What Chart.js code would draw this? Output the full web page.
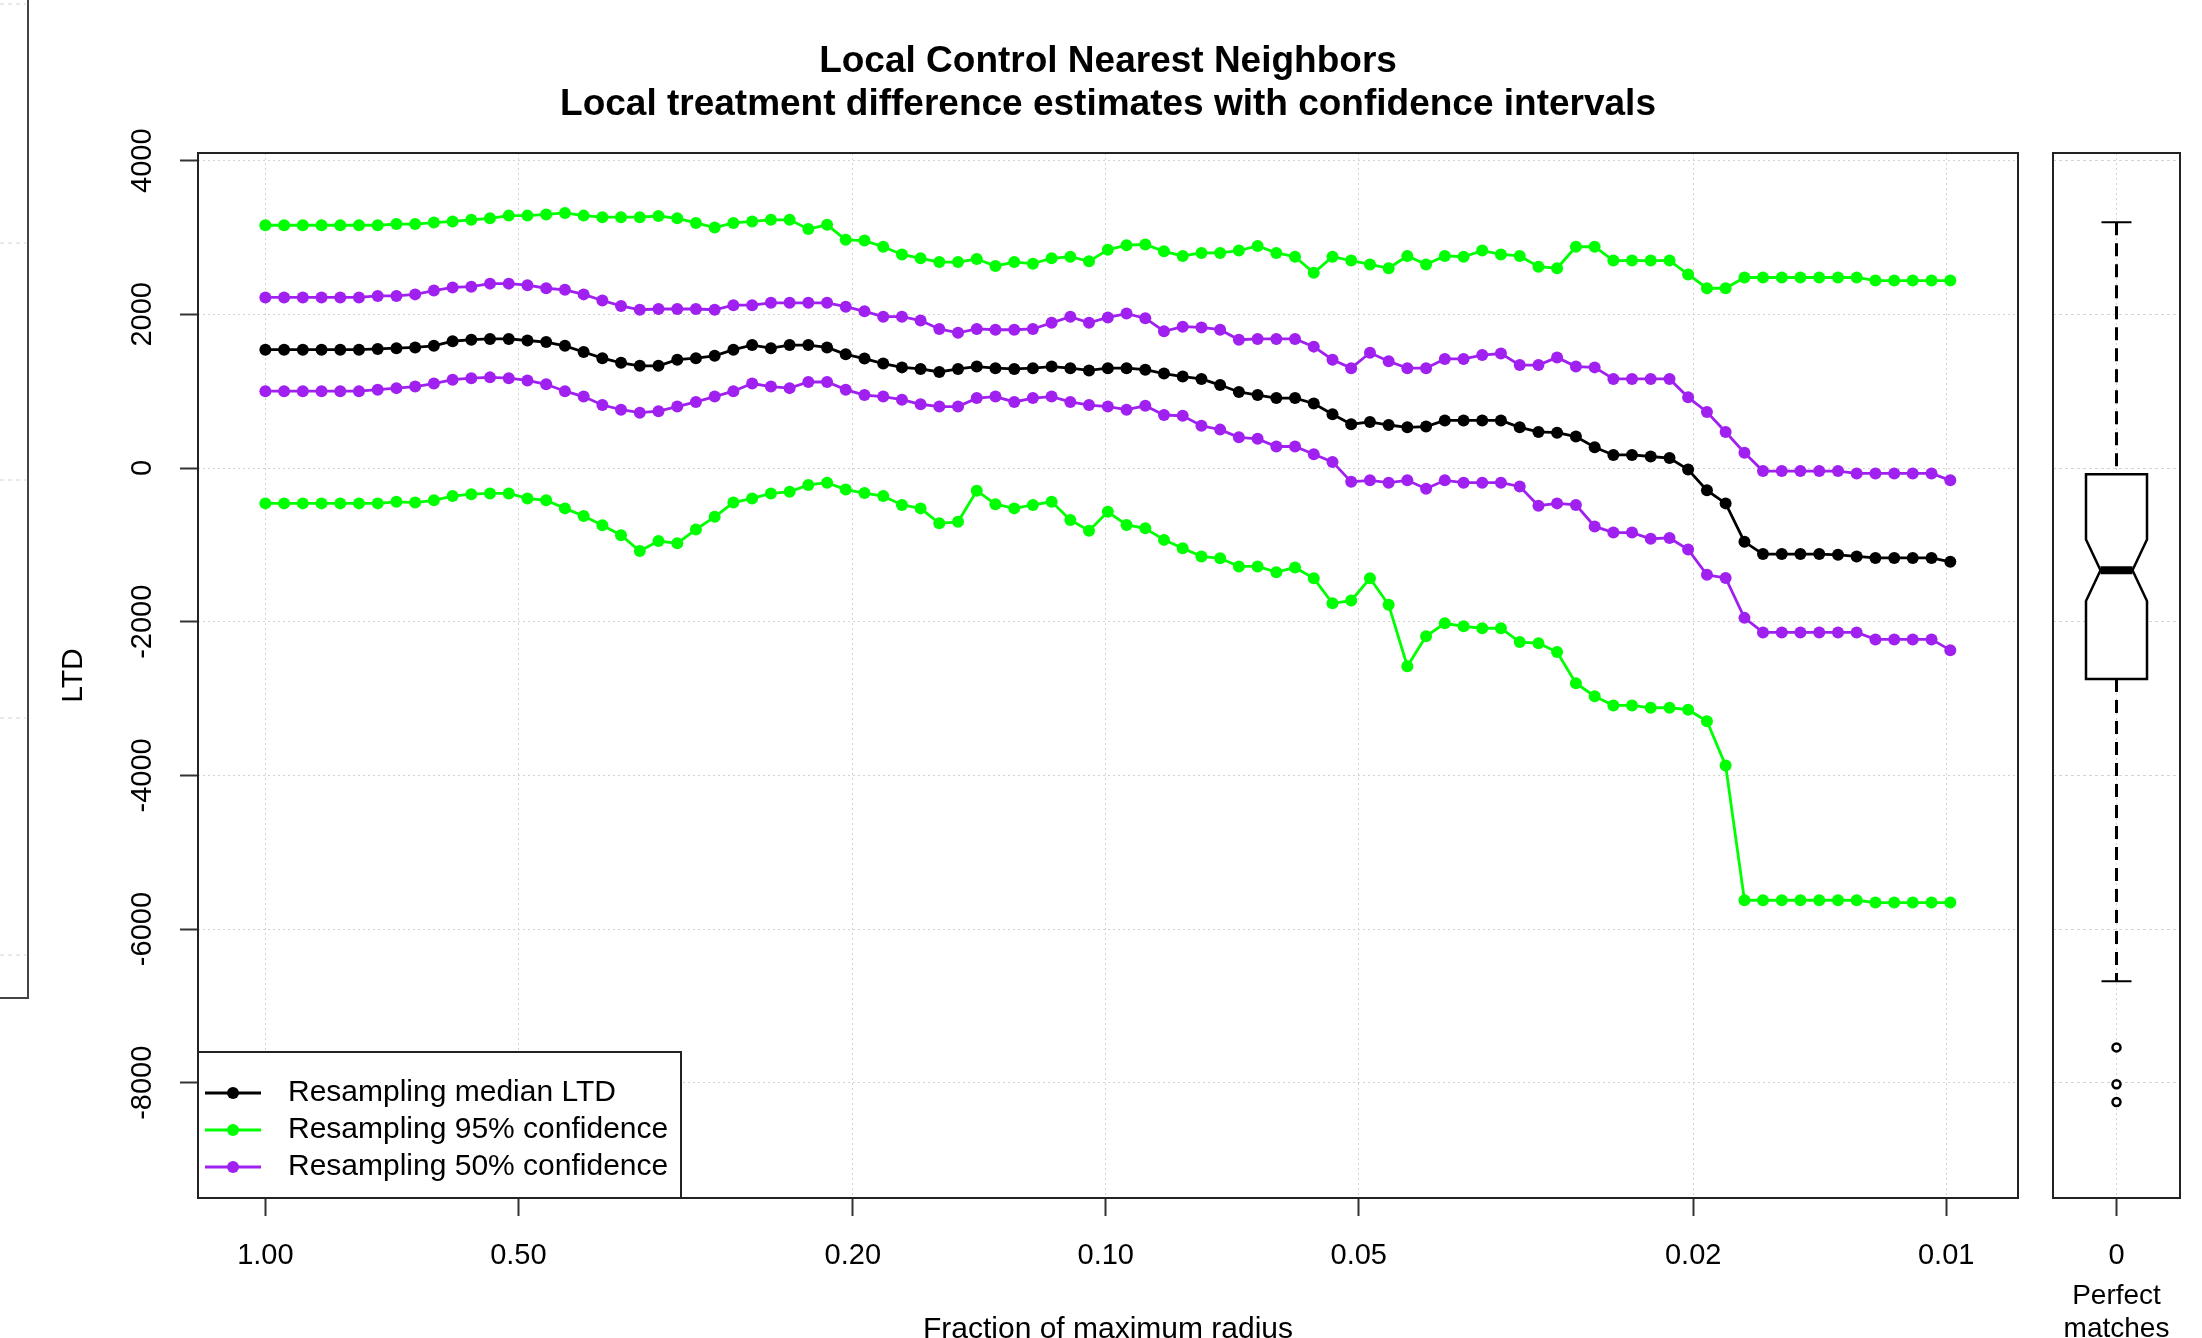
<!DOCTYPE html>
<html>
<head>
<meta charset="utf-8">
<title>Local Control Nearest Neighbors</title>
<script src="https://cdn.jsdelivr.net/npm/chart.js@4.4.1/dist/chart.umd.min.js"></script>
<style>
  html, body { margin: 0; padding: 0; background: #fff; overflow: hidden; }
  #main { position: absolute; left: 0; top: 0; }
  #box { position: absolute; left: 2040px; top: 0; }
</style>
</head>
<body>
<canvas id="main" width="2040" height="1349"></canvas>
<canvas id="box" width="162" height="1346"></canvas>
<script>
// Fraction of maximum radius (each step is 95% of the previous one)
const fraction = [
  1, 0.95, 0.9025, 0.8574, 0.8145, 0.7738, 0.7351, 0.6983, 0.6634, 0.6302,
  0.5987, 0.5688, 0.5404, 0.5133, 0.4877, 0.4633, 0.4401, 0.4181, 0.3972, 0.3774,
  0.3585, 0.3406, 0.3235, 0.3074, 0.2920, 0.2774, 0.2635, 0.2503, 0.2378, 0.2259,
  0.2146, 0.2039, 0.1937, 0.1840, 0.1748, 0.1661, 0.1578, 0.1499, 0.1424, 0.1353,
  0.1285, 0.1221, 0.1160, 0.1102, 0.1047, 0.09944, 0.09447, 0.08974, 0.08526, 0.08100,
  0.07694, 0.07310, 0.06944, 0.06597, 0.06267, 0.05954, 0.05656, 0.05373, 0.05105, 0.04849,
  0.04607, 0.04377, 0.04158, 0.03950, 0.03752, 0.03565, 0.03387, 0.03217, 0.03056, 0.02904,
  0.02758, 0.02620, 0.02489, 0.02365, 0.02247, 0.02134, 0.02028, 0.01926, 0.01830, 0.01738,
  0.01652, 0.01569, 0.01491, 0.01416, 0.01345, 0.01278, 0.01214, 0.01153, 0.01096, 0.01041,
  0.009888
];

const medianLTD = [
  1540, 1540, 1540, 1540, 1540, 1540, 1550, 1560, 1570, 1590,
  1650, 1670, 1680, 1680, 1660, 1640, 1590, 1510, 1430, 1370,
  1330, 1330, 1410, 1430, 1460, 1540, 1600, 1560, 1600, 1600,
  1570, 1480, 1425, 1360, 1310, 1290, 1250, 1290, 1320, 1300,
  1290, 1300, 1320, 1300, 1270, 1300, 1300, 1280, 1230, 1190,
  1160, 1080, 990, 950, 910, 910, 840, 700, 570, 600,
  560, 530, 540, 620, 620, 620, 620, 530, 470, 460,
  410, 270, 170, 170, 150, 130, -20, -290, -460, -960,
  -1120, -1120, -1120, -1120, -1130, -1150, -1170, -1170, -1170, -1170,
  -1220
];

const upper95 = [
  3160, 3160, 3160, 3160, 3160, 3160, 3160, 3175, 3175, 3195,
  3210, 3230, 3250, 3285, 3285, 3300, 3320, 3285, 3265, 3265,
  3265, 3280, 3250, 3190, 3130, 3190, 3210, 3230, 3230, 3110,
  3165, 2970, 2960, 2880, 2780, 2730, 2680, 2680, 2720, 2630,
  2680, 2660, 2730, 2750, 2690, 2840, 2900, 2910, 2820, 2760,
  2800, 2800, 2830, 2890, 2800, 2750, 2540, 2750, 2700, 2650,
  2600, 2760, 2650, 2760, 2750, 2830, 2780, 2760, 2620, 2600,
  2880, 2880, 2700, 2700, 2700, 2700, 2520, 2340, 2340, 2480,
  2480, 2480, 2480, 2480, 2480, 2480, 2440, 2440, 2440, 2440,
  2440
];

const lower95 = [
  -460, -460, -460, -460, -460, -460, -460, -440, -450, -420,
  -365, -340, -330, -330, -395, -420, -525, -625, -745, -875,
  -1080, -950, -980, -800, -635, -450, -395, -330, -310, -220,
  -190, -280, -325, -365, -480, -525, -720, -700, -295, -470,
  -525, -480, -440, -675, -815, -570, -740, -785, -935, -1045,
  -1150, -1175, -1280, -1280, -1355, -1295, -1435, -1760, -1725, -1435,
  -1780, -2580, -2190, -2020, -2060, -2085, -2085, -2265, -2280, -2395,
  -2800, -2970, -3090, -3090, -3120, -3120, -3145, -3295, -3870, -5625,
  -5625, -5625, -5625, -5625, -5625, -5625, -5655, -5655, -5655, -5655,
  -5655
];

const upper50 = [
  2220, 2220, 2220, 2220, 2220, 2220, 2240, 2240, 2260, 2310,
  2350, 2360, 2400, 2400, 2380, 2340, 2320, 2260, 2180, 2110,
  2060, 2070, 2070, 2070, 2060, 2120, 2120, 2150, 2150, 2150,
  2150, 2100, 2040, 1970, 1970, 1920, 1810, 1760, 1810, 1800,
  1800, 1810, 1890, 1970, 1890, 1960, 2010, 1950, 1780, 1840,
  1830, 1800, 1670, 1680, 1680, 1680, 1580, 1410, 1300, 1500,
  1390, 1300, 1300, 1420, 1420, 1470, 1490, 1340, 1340, 1440,
  1320, 1310, 1160, 1160, 1160, 1160, 920, 730, 470, 200,
  -40, -40, -40, -40, -40, -70, -70, -70, -70, -70,
  -160
];

const lower50 = [
  1000, 1000, 1000, 1000, 1000, 1000, 1020, 1040, 1060, 1100,
  1150, 1170, 1180, 1170, 1140, 1090, 1000, 930, 820, 760,
  720, 740, 800, 860, 930, 1000, 1100, 1060, 1040, 1120,
  1120, 1020, 950, 930, 890, 830, 800, 800, 910, 930,
  860, 910, 930, 860, 820, 800, 760, 810, 690, 680,
  550, 500, 400, 380, 280, 280, 180, 80, -180, -160,
  -190, -160, -270, -160, -190, -190, -190, -240, -490, -460,
  -480, -760, -840, -840, -920, -910, -1060, -1390, -1430, -1950,
  -2140, -2140, -2140, -2140, -2140, -2140, -2230, -2230, -2230, -2230,
  -2370
];

const xTicks = [1, 0.5, 0.2, 0.1, 0.05, 0.02, 0.01];
const yTicks = [-8000, -6000, -4000, -2000, 0, 2000, 4000];

// Perfect matches boxplot: lower whisker, Q1, median, Q3, upper whisker
const boxFive = [-6680, -2745, -1330, -80, 3200];
const boxNotch = [-1730, -930];
const boxOutliers = [-7540, -8020, -8250];

const titleLines = ['Local Control Nearest Neighbors', 'Local treatment difference estimates with confidence intervals'];
const legendLabels = ['Resampling median LTD', 'Resampling 95% confidence', 'Resampling 50% confidence'];

const BLACK = '#000000', GREEN = '#00FF00', PURPLE = '#A020F0', GRID = '#D3D3D3', FRAME = '#222';
const FONT = '"Liberation Sans", Arial, Helvetica, sans-serif';
Chart.defaults.font.family = FONT;
Chart.defaults.color = '#000';

function series(label, ys, color) {
    return {
        label: label,
        data: fraction.map((f, i) => ({ x: f, y: ys[i] })),
        borderColor: color,
        backgroundColor: color,
        borderWidth: 2.8,
        pointRadius: 6,
        pointBorderWidth: 0,
        tension: 0,
    };
}

function setTicks(values) {
    return scale => { scale.ticks = values.map(v => ({ value: v })); };
}

const axisGrid = { color: GRID, lineWidth: 1, tickLength: 18, tickColor: '#333', tickWidth: 2, tickBorderDash: [] };

// frame, titles, legend and the sliver of the neighbouring panel on the far left
const mainDecor = {
    id: 'mainDecor',
    beforeDraw(chart) {
        const ctx = chart.ctx;
        ctx.save();
        ctx.strokeStyle = GRID; ctx.lineWidth = 1; ctx.setLineDash([4, 4]);
        [4, 243, 480, 718, 955].forEach(y => {
            ctx.beginPath(); ctx.moveTo(0, y); ctx.lineTo(26, y); ctx.stroke();
        });
        ctx.setLineDash([]);
        ctx.strokeStyle = '#444'; ctx.lineWidth = 2;
        ctx.beginPath(); ctx.moveTo(28, 0); ctx.lineTo(28, 998); ctx.lineTo(0, 998); ctx.stroke();
        ctx.restore();
    },
    afterDatasetsDraw(chart) {
        const { ctx, chartArea: a } = chart;
        ctx.save();
        ctx.strokeStyle = FRAME; ctx.lineWidth = 2;
        ctx.strokeRect(a.left, a.top, a.right - a.left, a.bottom - a.top);

        ctx.fillStyle = '#000'; ctx.textAlign = 'center'; ctx.textBaseline = 'middle';
        ctx.font = 'bold 37px ' + FONT;
        const cx = (a.left + a.right) / 2;
        ctx.fillText(titleLines[0], cx, 62);
        ctx.fillText(titleLines[1], cx, 105);

        // legend, bottom left inside the plot
        const colors = [BLACK, GREEN, PURPLE];
        const lw = 483, lh = 146, lx = a.left, ly = a.bottom - lh;
        ctx.fillStyle = '#fff'; ctx.fillRect(lx, ly, lw, lh);
        ctx.strokeStyle = FRAME; ctx.lineWidth = 2; ctx.strokeRect(lx, ly, lw, lh);
        ctx.font = '30px ' + FONT; ctx.textAlign = 'left';
        legendLabels.forEach((t, i) => {
            const y = ly + 41 + i * 37;
            ctx.strokeStyle = colors[i]; ctx.lineWidth = 2.8;
            ctx.beginPath(); ctx.moveTo(lx + 7, y); ctx.lineTo(lx + 63, y); ctx.stroke();
            ctx.fillStyle = colors[i];
            ctx.beginPath(); ctx.arc(lx + 35, y, 6, 0, Math.PI * 2); ctx.fill();
            ctx.fillStyle = '#000';
            ctx.fillText(t, lx + 90, y);
        });
        ctx.restore();
    }
};

new Chart(document.getElementById('main'), {
    type: 'line',
    data: {
        datasets: [
            series(legendLabels[0], medianLTD, BLACK),
            series('95% upper', upper95, GREEN),
            series('95% lower', lower95, GREEN),
            series('50% upper', upper50, PURPLE),
            series('50% lower', lower50, PURPLE),
        ]
    },
    options: {
        responsive: false,
        devicePixelRatio: 1,
        animation: false,
        events: [],
        layout: { padding: { left: 0, right: 22, top: 153, bottom: 0 } },
        plugins: { legend: { display: false }, tooltip: { enabled: false } },
        scales: {
            x: {
                type: 'logarithmic',
                reverse: true,
                bounds: 'data',
                min: 0.008214,
                max: 1.2027,
                afterBuildTicks: setTicks(xTicks),
                afterFit: s => { s.height = 151; },
                ticks: { callback: v => Number(v).toFixed(2), font: { size: 29 }, color: '#000', padding: 23, autoSkip: false, minRotation: 0, maxRotation: 0 },
                grid: axisGrid,
                border: { display: false, dash: [2, 3] },
                title: { display: true, text: 'Fraction of maximum radius', font: { size: 30 }, color: '#000', padding: { top: 0, bottom: 1 } }
            },
            y: {
                min: -9500,
                max: 4100,
                afterBuildTicks: setTicks(yTicks),
                afterFit: s => { s.width = 198; },
                ticks: { callback: v => String(v), font: { size: 29 }, color: '#000', padding: 0, autoSkip: false, minRotation: 90, maxRotation: 90, crossAlign: 'center' },
                grid: axisGrid,
                border: { display: false, dash: [2, 3] },
                title: { display: true, text: 'LTD', font: { size: 30 }, color: '#000', padding: { top: 56, bottom: 0 } }
            }
        }
    },
    plugins: [mainDecor]
});

// notched box for the perfect matches, drawn on the panel's own scales
const notchedBox = {
    id: 'notchedBox',
    beforeDatasetsDraw(chart) {
        const { ctx, scales: { x, y } } = chart;
        const cx = x.getPixelForValue(0);
        const [lo, q1, med, q3, hi] = boxFive.map(v => y.getPixelForValue(v));
        const nLo = y.getPixelForValue(boxNotch[0]), nHi = y.getPixelForValue(boxNotch[1]);
        const bw = 30.5, nw = 16, cw = 15;
        ctx.save();
        ctx.strokeStyle = '#000';
        ctx.lineWidth = 3; ctx.setLineDash([13, 8]);
        ctx.beginPath(); ctx.moveTo(cx, hi); ctx.lineTo(cx, q3); ctx.moveTo(cx, q1); ctx.lineTo(cx, lo); ctx.stroke();
        ctx.setLineDash([]); ctx.lineWidth = 2;
        ctx.beginPath(); ctx.moveTo(cx - cw, hi); ctx.lineTo(cx + cw, hi); ctx.moveTo(cx - cw, lo); ctx.lineTo(cx + cw, lo); ctx.stroke();
        ctx.beginPath();
        ctx.moveTo(cx - bw, q3); ctx.lineTo(cx + bw, q3); ctx.lineTo(cx + bw, nHi); ctx.lineTo(cx + nw, med);
        ctx.lineTo(cx + bw, nLo); ctx.lineTo(cx + bw, q1); ctx.lineTo(cx - bw, q1); ctx.lineTo(cx - bw, nLo);
        ctx.lineTo(cx - nw, med); ctx.lineTo(cx - bw, nHi); ctx.closePath();
        ctx.fillStyle = '#fff'; ctx.fill();
        ctx.lineWidth = 2.5; ctx.stroke();
        ctx.lineWidth = 8;
        ctx.beginPath(); ctx.moveTo(cx - nw, med); ctx.lineTo(cx + nw, med); ctx.stroke();
        ctx.restore();
    },
    afterDatasetsDraw(chart) {
        const { ctx, chartArea: a } = chart;
        ctx.save();
        ctx.strokeStyle = FRAME; ctx.lineWidth = 2;
        ctx.strokeRect(a.left, a.top, a.right - a.left, a.bottom - a.top);
        ctx.restore();
    }
};

new Chart(document.getElementById('box'), {
    type: 'scatter',
    data: {
        datasets: [{
            label: 'outliers',
            data: boxOutliers.map(v => ({ x: 0, y: v })),
            pointStyle: 'circle',
            pointRadius: 4,
            borderWidth: 2.5,
            borderColor: BLACK,
            backgroundColor: '#fff'
        }]
    },
    options: {
        responsive: false,
        devicePixelRatio: 1,
        animation: false,
        events: [],
        layout: { padding: { left: 13, right: 22, top: 153, bottom: 0 } },
        plugins: { legend: { display: false }, tooltip: { enabled: false } },
        scales: {
            x: {
                type: 'linear',
                min: -1,
                max: 1,
                afterBuildTicks: setTicks([0]),
                afterFit: s => { s.height = 148; },
                ticks: { callback: () => '0', font: { size: 29 }, color: '#000', padding: 23, autoSkip: false, minRotation: 0, maxRotation: 0 },
                grid: axisGrid,
                border: { display: false, dash: [2, 3] },
                title: { display: true, text: ['Perfect', 'matches'], font: { size: 28, lineHeight: 1.18 }, color: '#000', padding: { top: 0, bottom: 0 } }
            },
            y: {
                min: -9500,
                max: 4100,
                afterBuildTicks: setTicks(yTicks),
                afterFit: s => { s.width = 0; },
                ticks: { display: false },
                grid: { color: GRID, lineWidth: 1, drawTicks: false },
                border: { display: false, dash: [3, 3] }
            }
        }
    },
    plugins: [notchedBox]
});
</script>
</body>
</html>
